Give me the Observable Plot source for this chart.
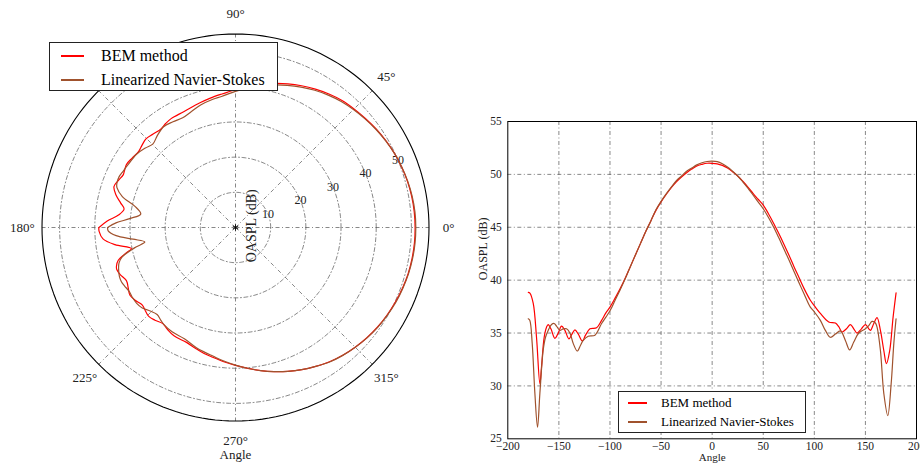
<!DOCTYPE html>
<html><head><meta charset="utf-8">
<script src="https://cdn.jsdelivr.net/npm/d3@7"></script>
<script src="https://cdn.jsdelivr.net/npm/@observablehq/plot@0.6"></script>
<style>
body{margin:0;background:#fff;}
#wrap{position:relative;width:920px;height:464px;overflow:hidden;font-family:"Liberation Serif",serif;background:#fff;}
#polar{position:absolute;left:0;top:0;}
#cart{position:absolute;left:470px;top:0;}
.leg{position:absolute;background:#fff;border:1px solid #222;box-sizing:border-box;}
.sw{position:absolute;height:2px;}
.lbl{position:absolute;white-space:nowrap;color:#000;}
</style></head>
<body><div id="wrap"><div id="polar"></div><div id="cart"></div></div>
<script>
// ---- data ----
const seriesNames = ["BEM method", "Linearized Navier-Stokes"];
const seriesColors = ["#ff0000", "#a0522d"];

const bemAngle = [-180,-178.4,-175.1,-171.9,-168.6,-167,-164.4,-162.1,-160.5,-157.8,-153.9,-150.6,-147.4,-144.1,-140.2,-136.9,-134.3,-131,-127.1,-123.9,-119.6,-113.1,-108.2,-104,-100,-95,-90,-85,-80,-75,-70,-65,-60,-55,-50,-45,-40,-35,-30,-25,-20,-15,-10,-5,0,5,10,15,20,25,30,35,40,45,50,55,60,65,70,75,80,85,90,96.1,101,105.9,114.1,120.6,123.9,127.1,131.4,135.3,138.6,141.8,146.1,150,153.3,154.9,158.2,161.4,164.7,168,170.6,173.8,177.1,180];
const bemSPL = [38.85,38.78,37.8,34.6,30.2,31.8,34.6,35.55,35.8,35.4,34.5,35.0,35.65,35.25,34.45,34.95,35.3,34.9,34.25,34.8,35.4,35.5,36.2,36.9,37.45,38.3,39.2,40.2,41.3,42.4,43.5,44.6,45.6,46.6,47.4,48.1,48.75,49.3,49.75,50.15,50.5,50.8,50.95,51.05,51.05,51.0,50.85,50.6,50.25,49.85,49.35,48.8,48.2,47.65,47.1,46.3,45.4,44.45,43.45,42.4,41.3,40.25,39.2,38.1,37.45,36.85,36.05,35.95,35.6,35.1,35.4,35.8,35.4,35.0,35.4,35.8,35.4,35.25,35.9,36.45,35.25,33.35,32.1,33.35,36.5,38.8];

const lnsAngle = [-180,-178.5,-176.1,-173.5,-170.9,-168.6,-165.4,-163.1,-160.5,-157.2,-154.6,-152.3,-149,-145.8,-142.5,-139.2,-135.9,-132,-128.8,-126.2,-121.3,-114.7,-108.2,-104,-100,-95,-90,-85,-80,-75,-70,-65,-60,-55,-50,-45,-40,-35,-30,-25,-20,-15,-10,-5,0,5,10,15,20,25,30,35,40,45,50,55,60,65,70,75,80,85,90,96.1,100,105.9,110.8,115.7,120.6,125.5,130.4,134.6,138.6,143.5,150,153.3,156.5,159.8,161.4,164.7,168,171.9,175.2,177.8,180];
const lnsSPL = [36.35,36.2,34.0,29.3,26.1,29.3,33.35,34.6,35.25,35.8,35.9,35.65,35.25,35.4,35.4,35.0,34.0,33.3,33.85,34.3,34.7,34.8,35.9,36.5,37.1,38.1,39.1,40.15,41.3,42.4,43.5,44.6,45.6,46.65,47.45,48.15,48.8,49.4,49.85,50.3,50.6,50.9,51.1,51.22,51.25,51.2,51.0,50.7,50.3,49.85,49.3,48.7,48.05,47.4,46.75,45.95,45.05,44.05,43.0,41.95,40.85,39.75,38.7,37.45,37.0,36.2,35.25,34.6,34.9,35.2,34.3,33.4,34.15,35.0,35.4,35.7,36.1,35.95,35.55,33.35,29.3,27.2,30.2,34.0,36.35];

const radialTicks = [10, 20, 30, 40, 50];
const radialMax = 55;
const angleTicks = [0, 45, 90, 135, 180, 225, 270, 315];
const angleLabels = ["0°", "45°", "90°", "135°", "180°", "225°", "270°", "315°"];
const xTicks = [-200, -150, -100, -50, 0, 50, 100, 150, 200];
const yTicks = [25, 30, 35, 40, 45, 50, 55];
const xGrid = [-150, -100, -50, 0, 50, 100, 150];
const yGrid = [30, 35, 40, 45, 50];

// ---- derived tables ----
const rad = d => d * Math.PI / 180;
const series = [
  {name: seriesNames[0], angle: bemAngle, spl: bemSPL},
  {name: seriesNames[1], angle: lnsAngle, spl: lnsSPL}
];
const rows = series.flatMap(s => s.angle.map((a, i) => ({series: s.name, angle: a, spl: s.spl[i]})));
const circles = [...radialTicks, radialMax].flatMap(r => d3.range(0, 361, 2).map(t => ({r, t})));

const gridStyle = {stroke: "#555", strokeWidth: 0.7, strokeDasharray: "4,2.5,1,2.5"};
const colorScale = {domain: seriesNames, range: seriesColors};

// ---- polar chart ----
const polar = Plot.plot({
  width: 470, height: 464,
  marginLeft: 41.5, marginRight: 41.5, marginTop: 33.5, marginBottom: 43.5,
  x: {domain: [-radialMax, radialMax], axis: null},
  y: {domain: [-radialMax, radialMax], axis: null},
  color: colorScale,
  style: {fontFamily: "Liberation Serif", fontSize: "13px", background: "#fff", overflow: "visible"},
  marks: [
    Plot.line(circles.filter(d => d.r !== radialMax), {x: d => d.r * Math.cos(rad(d.t)), y: d => d.r * Math.sin(rad(d.t)), z: "r", ...gridStyle}),
    Plot.link(angleTicks, {x1: () => 0, y1: () => 0, x2: a => radialMax * Math.cos(rad(a)), y2: a => radialMax * Math.sin(rad(a)), ...gridStyle}),
    Plot.line(circles.filter(d => d.r === radialMax), {x: d => d.r * Math.cos(rad(d.t)), y: d => d.r * Math.sin(rad(d.t)), stroke: "#000", strokeWidth: 1.1}),
    Plot.text(radialTicks, {x: r => r * Math.cos(rad(22.5)), y: r => r * Math.sin(rad(22.5)), text: d => String(d), fontSize: 12, fill: "#222"}),
    Plot.text(angleTicks, {x: a => 60.6 * Math.cos(rad(a)), y: a => 60.6 * Math.sin(rad(a)), text: (a, i) => angleLabels[i], fontSize: 13, fill: "#222"}),
    Plot.dot([0], {x: () => 0, y: () => 0, symbol: "asterisk", r: 3, stroke: "#000", strokeWidth: 0.9}),
    Plot.text(["OASPL (dB)"], {x: () => 4.6, y: () => 0.5, rotate: -90, fontSize: 14, fill: "#222"}),
    Plot.text(["Angle"], {frameAnchor: "bottom", dy: 37.5, fontSize: 13, fill: "#222"}),
    Plot.line(rows, {x: d => d.spl * Math.cos(rad(d.angle)), y: d => d.spl * Math.sin(rad(d.angle)), z: "series", stroke: "series", strokeWidth: 1.2, curve: "catmull-rom"})
  ]
});
document.getElementById("polar").appendChild(polar);

// ---- cartesian chart ----
const cart = Plot.plot({
  width: 450, height: 464,
  marginLeft: 37.3, marginRight: 4, marginTop: 121, marginBottom: 25.7,
  x: {domain: [-200, 200]},
  y: {domain: [25, 55]},
  color: colorScale,
  style: {fontFamily: "Liberation Serif", fontSize: "11px", background: "#fff", overflow: "visible"},
  marks: [
    Plot.gridX(xGrid, {...gridStyle, strokeOpacity: 1}),
    Plot.gridY(yGrid, {...gridStyle, strokeOpacity: 1}),
    Plot.axisX(xTicks, {tickSize: 0, tickPadding: 3, fontSize: 11.5, label: null, tickFormat: d3.format("d"), fill: "#222"}),
    Plot.axisY(yTicks, {tickSize: 0, tickPadding: 6, fontSize: 11.5, label: null, fill: "#222"}),
    Plot.text(["Angle"], {frameAnchor: "bottom", dy: 22.5, fontSize: 11, fill: "#222"}),
    Plot.text(["OASPL (dB)"], {frameAnchor: "left", dx: -25, rotate: -90, fontSize: 12, fill: "#222"}),
    Plot.line(rows, {x: "angle", y: "spl", z: "series", stroke: "series", strokeWidth: 1.2, curve: "catmull-rom"}),
    Plot.frame({stroke: "#000", strokeWidth: 1})
  ]
});
document.getElementById("cart").appendChild(cart);

// ---- legends ----
function legend(box, lineY, lineX, lineW, textX, fontSize) {
  const el = document.createElement("div");
  el.className = "leg";
  Object.assign(el.style, {left: box[0] + "px", top: box[1] + "px", width: box[2] + "px", height: box[3] + "px"});
  seriesNames.forEach((name, i) => {
    const sw = document.createElement("div");
    sw.className = "sw";
    Object.assign(sw.style, {left: lineX + "px", width: lineW + "px", top: (lineY[i] - 1) + "px", background: seriesColors[i]});
    el.appendChild(sw);
    const t = document.createElement("div");
    t.className = "lbl";
    t.textContent = name;
    Object.assign(t.style, {left: textX + "px", top: (lineY[i] - fontSize) + "px", height: (2 * fontSize) + "px", lineHeight: (2 * fontSize) + "px", fontSize: fontSize + "px"});
    el.appendChild(t);
  });
  document.getElementById("wrap").appendChild(el);
}
legend([49, 42, 229, 49], [13, 37], 11, 23, 51, 16);
legend([618, 391, 188, 42], [11, 30], 9, 19, 42, 13);
</script>
</body></html>
